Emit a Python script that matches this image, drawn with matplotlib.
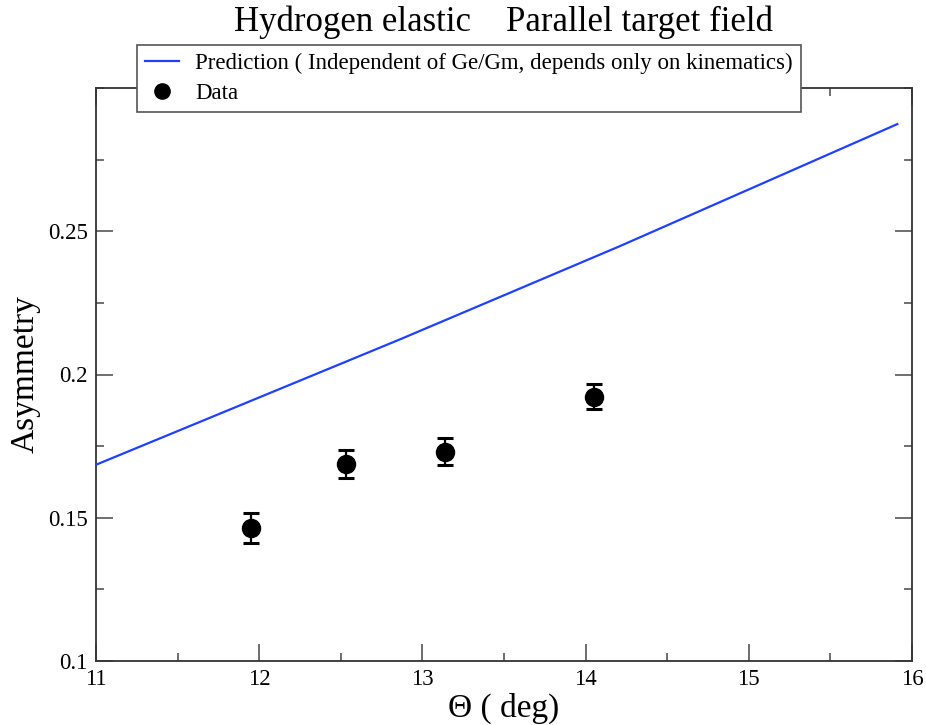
import matplotlib
matplotlib.use("Agg")
import matplotlib.pyplot as plt
from matplotlib.ticker import MultipleLocator
from matplotlib.lines import Line2D

# Data
pred_theta = [11.0, 12.86, 14.21, 15.91]
pred_asym = [0.1685, 0.2122, 0.2448, 0.2874]
data_theta = [11.95, 12.53, 13.14, 14.05]
data_asym = [0.1465, 0.1687, 0.1731, 0.1922]
data_err = [0.0052, 0.0050, 0.0047, 0.0044]

title = "Hydrogen elastic    Parallel target field"
xlabel = "\u0398 ( deg)"
ylabel = "Asymmetry"
pred_label = "Prediction ( Independent of Ge/Gm, depends only on kinematics)"
data_label = "Data"

plt.rcParams['font.family'] = ['Liberation Serif', 'DejaVu Serif']

fig = plt.figure(figsize=(9.26, 7.25), dpi=100)
ax = fig.add_axes([96/926, 1-661/725, (912-96)/926, (661-88)/725])

line, = ax.plot(pred_theta, pred_asym, color='#2040ff', lw=1.6, label=pred_label, zorder=3)
ax.errorbar(data_theta, data_asym, yerr=data_err, fmt='o', color='black',
            ms=13, capsize=6, elinewidth=1.6, capthick=2.2, zorder=4)
data_handle = Line2D([], [], marker='o', ls='none', color='black', ms=11, label=data_label)

ax.set_xlim(11, 16)
ax.set_ylim(0.1, 0.3)
ax.xaxis.set_major_locator(MultipleLocator(1))
ax.xaxis.set_minor_locator(MultipleLocator(0.5))
ax.yaxis.set_minor_locator(MultipleLocator(0.025))
ax.set_yticks([0.1, 0.15, 0.2, 0.25])
ax.set_yticklabels(['0.1', '0.15', '0.2', '0.25'])

ax.tick_params(which='both', direction='in', top=True, right=True, color='#555555', width=1.2)
ax.tick_params(which='major', length=12, labelsize=16.5, pad=6)
ax.tick_params(which='minor', length=6)
for s in ax.spines.values():
    s.set_color('#333333')
    s.set_linewidth(1.3)

ax.set_xlabel(xlabel, fontsize=24, labelpad=2)
ax.set_ylabel(ylabel, fontsize=24, labelpad=5)
fig.text(0.5 * (96 + 912) / 926, 1 - 22/725, title, fontsize=25, ha='center', va='center')

leg = ax.legend(handles=[line, data_handle], loc='upper left',
                bbox_to_anchor=(137/926, 1-45/725), bbox_transform=fig.transFigure,
                fontsize=16.5, frameon=True, fancybox=False, framealpha=1,
                edgecolor='#555555', borderpad=0.35, handlelength=1.5, handletextpad=0.7,
                labelspacing=0.4, borderaxespad=0)
leg.get_frame().set_linewidth(1.2)
leg.set_zorder(10)

fig.savefig('out.png', dpi=100)
